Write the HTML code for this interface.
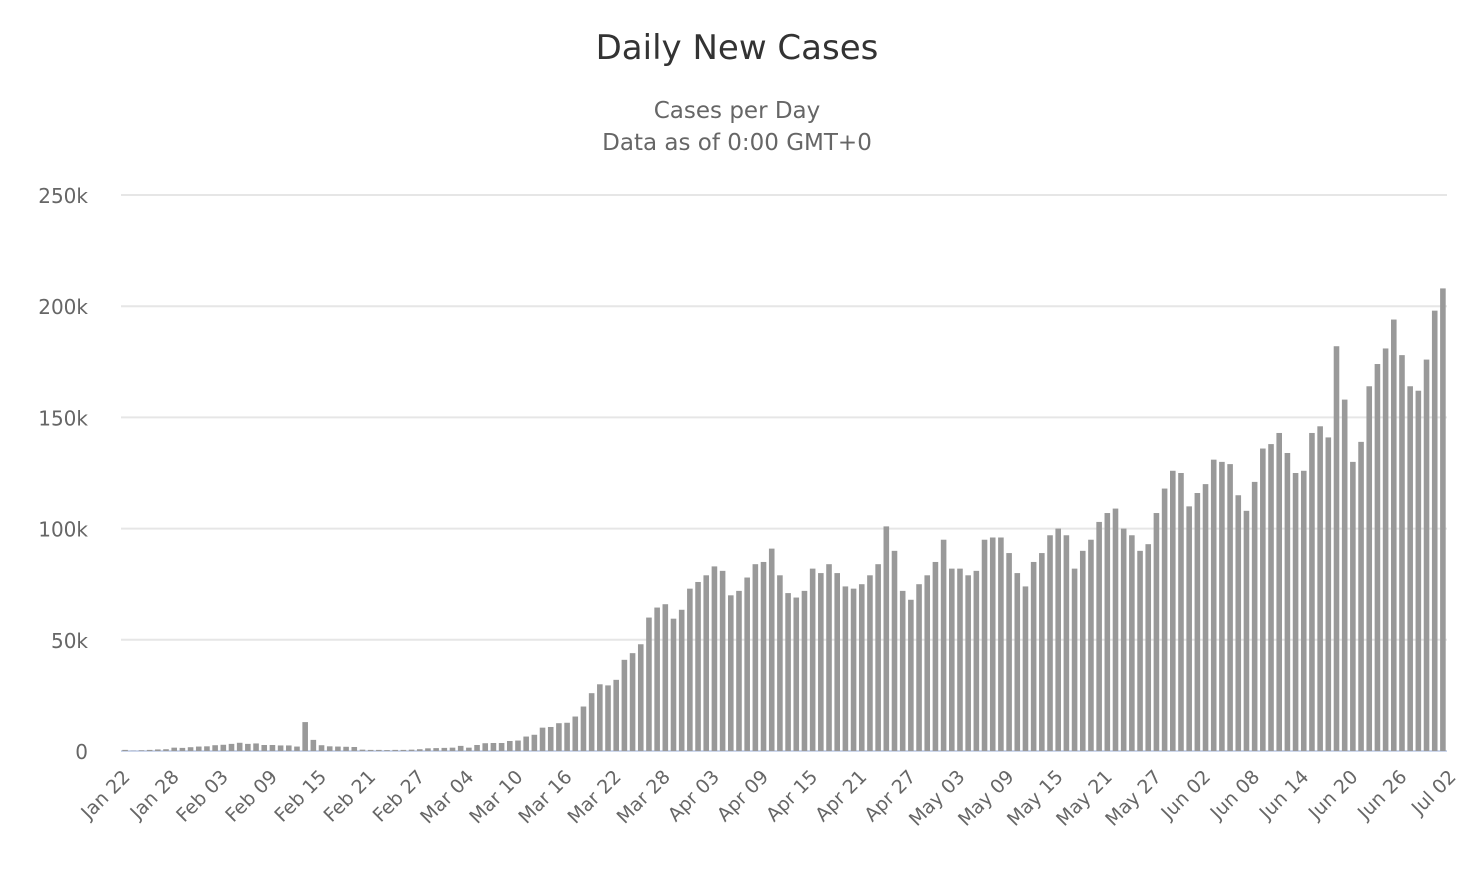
<!DOCTYPE html>
<html><head><meta charset="utf-8"><style>
body{margin:0;background:#fff;font-family:"Liberation Sans","DejaVu Sans",sans-serif}
svg text{font-family:"DejaVu Sans","Liberation Sans",sans-serif}
</style></head><body>
<svg id="c" width="1473" height="870">
<text x="737" y="59" text-anchor="middle" font-size="34" fill="#333">Daily New Cases</text>
<text x="737" y="118" text-anchor="middle" font-size="23" fill="#666">Cases per Day</text>
<text x="737" y="150" text-anchor="middle" font-size="23" fill="#666">Data as of 0:00 GMT+0</text>
<g id="grid"></g><g id="bars"></g><g id="xl"></g>
</svg>
<script>
const cases=[0.5,0.1,0.3,0.5,0.7,0.8,1.5,1.4,1.7,2.0,
2.1,2.6,2.8,3.2,3.7,3.2,3.4,2.7,2.7,2.5,2.5,2.0,13,5,2.6,2.1,2.0,1.9,1.8,0.6,0.5,0.5,0.4,0.5,0.5,0.6,0.8,1.2,1.3,
1.4,1.5,2.3,1.5,2.7,3.5,3.6,3.6,4.5,4.7,6.5,7.3,10.5,10.8,12.5,12.7,15.5,20,26,30,29.5,32,41,44,48,60,64.5,66,59.5,63.5,
73,76,79,83,81,70,72,78,84,85,91,79,71,69,72,82,80,84,80,74,73,75,79,84,101,90,72,68,75,79,
85,95,82,82,79,81,95,96,96,89,80,74,85,89,97,100,97,82,90,95,103,107,109,100,97,90,93,107,118,126,125,
110,116,120,131,130,129,115,108,121,136,138,143,134,125,126,143,146,141,182,158,130,139,164,174,181,194,178,164,162,176,
198,208];
const yTicks=[0,50,100,150,200,250];
const yTickLabels=["0","50k","100k","150k","200k","250k"];
const xLabels=["Jan 22","Jan 28","Feb 03","Feb 09","Feb 15","Feb 21","Feb 27","Mar 04","Mar 10","Mar 16","Mar 22","Mar 28","Apr 03","Apr 09","Apr 15","Apr 21","Apr 27","May 03","May 09","May 15","May 21","May 27","Jun 02","Jun 08","Jun 14","Jun 20","Jun 26","Jul 02"];
const NS="http://www.w3.org/2000/svg";
const L=121,R=1447,B=751,T=195,n=cases.length,bw=(R-L)/n;
const y=v=>B-(v/250)*(B-T);
const x=i=>L+i*bw;
const g=document.getElementById('grid'),bg=document.getElementById('bars'),xg=document.getElementById('xl');
yTicks.forEach((t,k)=>{
 const ln=document.createElementNS(NS,'line');
 
 
 ln.setAttribute('x1',L);ln.setAttribute('x2',R);ln.setAttribute('y1',y(t));ln.setAttribute('y2',y(t));
 ln.setAttribute('stroke',t===0?'#ccd6eb':'#e6e6e6');ln.setAttribute('stroke-width',t===0?2:2);
 g.appendChild(ln);
 const tx=document.createElementNS(NS,'text');
 
 
 tx.setAttribute('x',88);tx.setAttribute('y',y(t)+8);tx.setAttribute('text-anchor','end');
 tx.setAttribute('font-size','20');tx.setAttribute('fill','#666');tx.textContent=yTickLabels[k];
 g.appendChild(tx);
});
cases.forEach((v,i)=>{
 const r=document.createElementNS(NS,'rect');
 
 
 r.setAttribute('x',x(i)+1.3);r.setAttribute('width',bw-2.6);
 r.setAttribute('y',y(v));r.setAttribute('height',Math.max(0,B-y(v)));
 r.setAttribute('fill','#999');
 bg.appendChild(r);
});
xLabels.forEach((s,k)=>{
 const cx=x(k*6)+bw/2, cy=768;
 const tx=document.createElementNS(NS,'text');
 
 
 tx.setAttribute('x',cx+6);tx.setAttribute('y',cy+10);tx.setAttribute('text-anchor','end');
 tx.setAttribute('font-size','19');tx.setAttribute('fill','#666');
 tx.setAttribute('transform',`rotate(-45 ${cx+6} ${cy+10})`);
 tx.textContent=s;
 xg.appendChild(tx);
});
</script>
</body></html>
